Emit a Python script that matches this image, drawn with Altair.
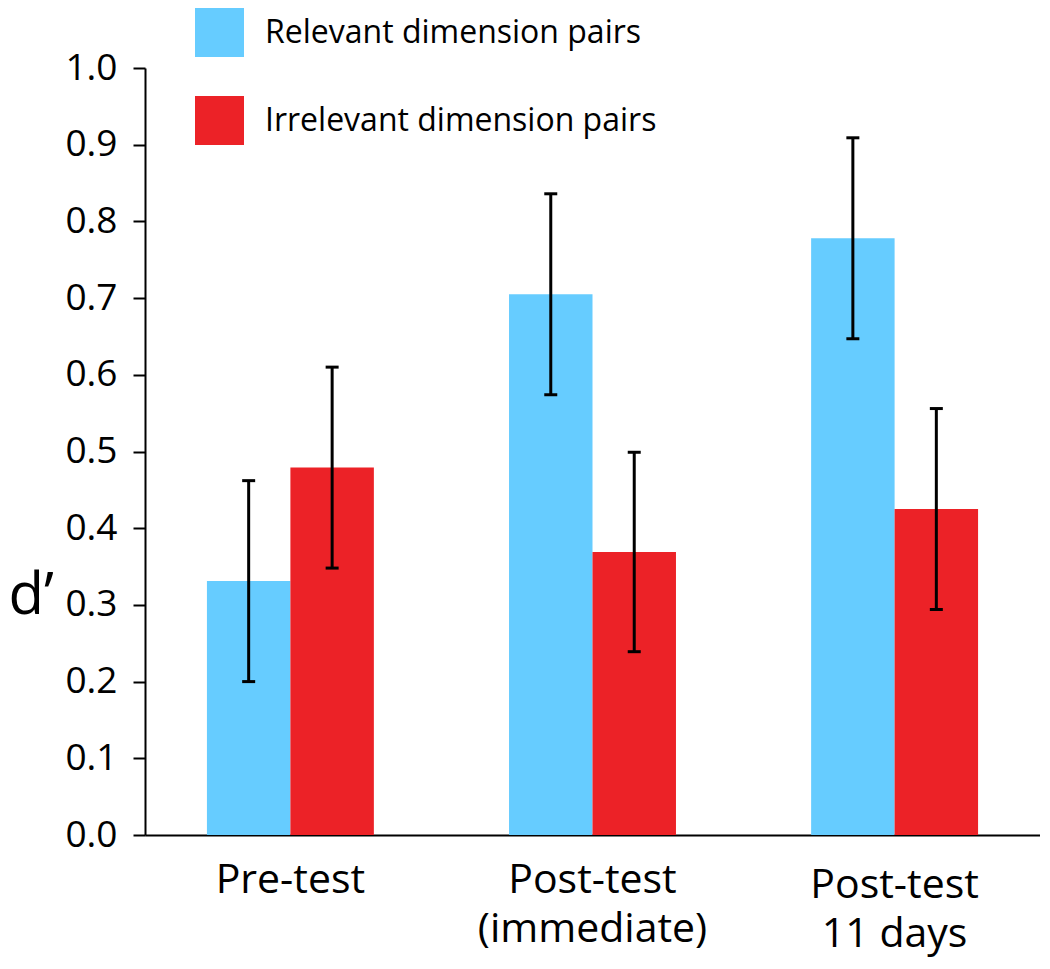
import altair as alt
import pandas as pd

categories = ["Pre-test", "Post-test\n(immediate)", "Post-test\n11 days"]
series = ["Relevant dimension pairs", "Irrelevant dimension pairs"]
relevant_values = [0.331, 0.705, 0.778]
irrelevant_values = [0.479, 0.369, 0.425]
relevant_errors = [0.131, 0.131, 0.131]
irrelevant_errors = [0.131, 0.130, 0.131]
colors = ["#66CCFF", "#EC2227"]
y_ticks = [0.0, 0.1, 0.2, 0.3, 0.4, 0.5, 0.6, 0.7, 0.8, 0.9, 1.0]

rows = []
for c, v, e in zip(categories, relevant_values, relevant_errors):
    rows.append({"test": c, "pairs": series[0], "d": v, "lo": v - e, "hi": v + e})
for c, v, e in zip(categories, irrelevant_values, irrelevant_errors):
    rows.append({"test": c, "pairs": series[1], "d": v, "lo": v - e, "hi": v + e})
df = pd.DataFrame(rows)

FONT = "Open Sans"

x_enc = alt.X(
    "test:N",
    sort=categories,
    scale=alt.Scale(paddingInner=0.4474, paddingOuter=0.205),
    axis=alt.Axis(
        title=None,
        labelAngle=0,
        labelExpr="split(datum.label, '\\n')",
        labelFont=FONT,
        labelFontSize=41,
        labelColor="black",
        labelLineHeight=49,
        labelLimit=0,
        labelPadding={"condition": {"test": "indexof(datum.value, '11 days') >= 0", "value": 30}, "value": 25},
        ticks=False,
        domainColor="black",
        domainWidth=2,
        grid=False,
    ),
)
xoff_enc = alt.XOffset("pairs:N", sort=series, scale=alt.Scale(paddingInner=0, paddingOuter=0))

y_scale = alt.Scale(domain=[0, 1], nice=False, zero=True)

bars = alt.Chart(df).mark_bar(opacity=1).encode(
    x=x_enc,
    xOffset=xoff_enc,
    y=alt.Y(
        "d:Q",
        scale=y_scale,
        axis=alt.Axis(
            values=y_ticks,
            format=".1f",
            title="d’",
            titleAngle=0,
            titleFont=FONT,
            titleFontSize=58,
            titleFontWeight="normal",
            titleColor="black",
            titleAlign="left",
            titleBaseline="middle",
            titleX=-137,
            titleY=528,
            labelFont=FONT,
            labelFontSize=37,
            labelColor="black",
            labelPadding=16,
            tickSize=12,
            tickWidth=2,
            tickColor="black",
            domainColor="black",
            domainWidth=2,
            grid=False,
        ),
    ),
    color=alt.Color(
        "pairs:N",
        sort=series,
        scale=alt.Scale(domain=series, range=colors),
        legend=alt.Legend(
            title=None,
            orient="none",
            legendX=50,
            legendY=-60,
            direction="vertical",
            symbolType="square",
            symbolSize=2401,
            symbolStrokeWidth=0,
            symbolOpacity=1,
            labelFont=FONT,
            labelFontSize=32,
            labelColor="black",
            labelOffset=21,
            labelLimit=700,
            rowPadding=39,
            padding=0,
        ),
    ),
)

rules = alt.Chart(df).mark_rule(color="black", strokeWidth=3).encode(
    x=x_enc,
    xOffset=xoff_enc,
    y=alt.Y("lo:Q", scale=y_scale),
    y2="hi:Q",
)

caps_hi = alt.Chart(df).mark_tick(color="black", thickness=3, size=13, opacity=1).encode(
    x=x_enc,
    xOffset=xoff_enc,
    y=alt.Y("hi:Q", scale=y_scale),
)
caps_lo = alt.Chart(df).mark_tick(color="black", thickness=3, size=13, opacity=1).encode(
    x=x_enc,
    xOffset=xoff_enc,
    y=alt.Y("lo:Q", scale=y_scale),
)

chart = (
    alt.layer(bars, rules, caps_hi, caps_lo)
    .properties(
        width=895,
        height=767,
        autosize=alt.AutoSizeParams(type="none"),
        padding={"left": 137, "top": 60, "right": 0, "bottom": 125},
        background="white",
    )
    .configure_view(strokeWidth=0)
)

chart.save("out.html", embed_options={"renderer": "svg", "actions": False})
